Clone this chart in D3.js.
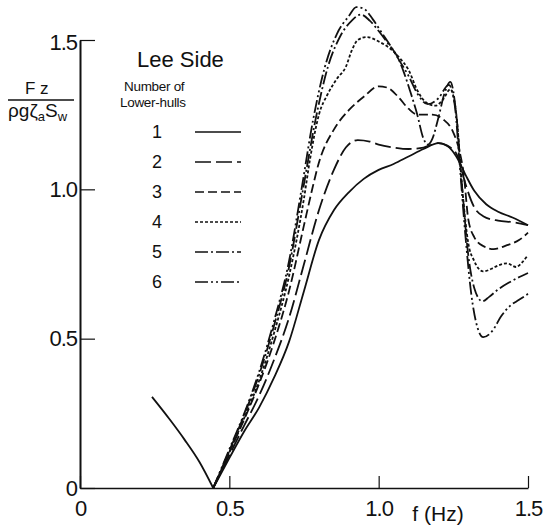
<!DOCTYPE html>
<html>
<head>
<meta charset="utf-8">
<script src="https://cdn.jsdelivr.net/npm/d3@7"></script>
<style>
body{margin:0;background:#fff;}
svg text{font-family:"Liberation Sans",Arial,sans-serif;fill:#111;}
</style>
</head>
<body>
<div id="chart"></div>
<script>
// values: [f (Hz), Fz / (rho g zeta_a Sw)]
var xTicks = [0, 0.5, 1.0, 1.5];
var yTicks = [0, 0.5, 1.0, 1.5];
var legendLabels = ["1", "2", "3", "4", "5", "6"];

var leftBranch = [[0.241,0.305],[0.3,0.23],[0.35,0.162],[0.4,0.087],[0.446,0]];

var hull1 = [[0.446,0],[0.5,0.1],[0.55,0.19],[0.6,0.27],[0.65,0.37],[0.7,0.49],[0.75,0.66],[0.8,0.83],[0.85,0.93],[0.9,0.99],[0.95,1.035],[1.0,1.065],[1.05,1.085],[1.1,1.11],[1.15,1.135],[1.2,1.155],[1.23,1.145],[1.26,1.11],[1.29,1.05],[1.32,0.995],[1.36,0.95],[1.4,0.925],[1.45,0.905],[1.5,0.88]];
var hull2 = [[0.446,0],[0.5,0.11],[0.55,0.21],[0.6,0.31],[0.65,0.43],[0.7,0.57],[0.75,0.75],[0.8,0.93],[0.85,1.065],[0.89,1.14],[0.93,1.165],[0.97,1.16],[1.0,1.15],[1.05,1.14],[1.1,1.135],[1.15,1.14],[1.2,1.155],[1.24,1.14],[1.265,1.11],[1.29,1.02],[1.32,0.94],[1.35,0.91],[1.4,0.895],[1.45,0.89],[1.5,0.88]];
var hull3 = [[0.446,0],[0.5,0.12],[0.55,0.23],[0.6,0.35],[0.65,0.49],[0.7,0.66],[0.75,0.88],[0.775,0.99],[0.8,1.09],[0.85,1.2],[0.9,1.265],[0.95,1.31],[1.0,1.345],[1.03,1.34],[1.065,1.31],[1.1,1.27],[1.13,1.25],[1.18,1.25],[1.215,1.235],[1.25,1.19],[1.27,1.13],[1.285,1.05],[1.3,0.9],[1.32,0.84],[1.35,0.81],[1.385,0.8],[1.43,0.813],[1.47,0.83],[1.5,0.855]];
var hull4 = [[0.446,0],[0.5,0.12],[0.55,0.235],[0.6,0.36],[0.65,0.52],[0.7,0.71],[0.75,0.97],[0.77,1.1],[0.8,1.25],[0.83,1.32],[0.86,1.37],[0.89,1.41],[0.91,1.465],[0.93,1.5],[0.96,1.51],[1.0,1.495],[1.04,1.47],[1.07,1.44],[1.1,1.4],[1.13,1.33],[1.16,1.29],[1.19,1.28],[1.215,1.3],[1.24,1.335],[1.26,1.25],[1.28,1.0],[1.3,0.82],[1.32,0.76],[1.35,0.725],[1.38,0.735],[1.4,0.745],[1.43,0.752],[1.46,0.74],[1.48,0.755],[1.5,0.78]];
var hull5 = [[0.446,0],[0.5,0.125],[0.55,0.245],[0.6,0.38],[0.65,0.545],[0.7,0.74],[0.745,0.99],[0.79,1.24],[0.83,1.41],[0.87,1.51],[0.91,1.565],[0.94,1.585],[0.97,1.565],[1.0,1.53],[1.03,1.49],[1.065,1.44],[1.085,1.39],[1.105,1.33],[1.128,1.255],[1.15,1.17],[1.165,1.15],[1.18,1.17],[1.2,1.24],[1.22,1.32],[1.24,1.36],[1.26,1.25],[1.28,1.0],[1.3,0.78],[1.32,0.67],[1.347,0.625],[1.37,0.64],[1.4,0.665],[1.44,0.69],[1.5,0.72]];
var hull6 = [[0.446,0],[0.5,0.13],[0.55,0.25],[0.6,0.39],[0.65,0.56],[0.7,0.76],[0.74,0.99],[0.78,1.23],[0.82,1.41],[0.86,1.52],[0.9,1.58],[0.925,1.61],[0.95,1.605],[0.98,1.57],[1.01,1.525],[1.04,1.48],[1.07,1.43],[1.1,1.38],[1.13,1.32],[1.165,1.285],[1.2,1.305],[1.235,1.35],[1.255,1.28],[1.27,1.1],[1.29,0.85],[1.31,0.65],[1.33,0.54],[1.35,0.505],[1.38,0.525],[1.41,0.575],[1.44,0.61],[1.47,0.63],[1.5,0.65]];

var series = [hull1, hull2, hull3, hull4, hull5, hull6];
var dashes = [null, "16,5", "9,4", "3,2", "13,3,2,3", "13,3,2,3,2,3"];

var width = 551, height = 529;

var svg = d3.select("#chart").append("svg")
    .attr("width", width)
    .attr("height", height);

var x = d3.scaleLinear().domain([0, 1.5]).range([80, 528]);
var y = d3.scaleLinear().domain([0, 1.5]).range([488, 40]);

var fmt = function(d){ return d === 0 ? "0" : d3.format(".1f")(d); };

// axes, ticks point inward
var xAxis = svg.append("g")
    .attr("transform", "translate(0," + y(0) + ")")
    .call(d3.axisBottom(x).tickValues(xTicks).tickFormat(fmt).tickSizeInner(-12).tickSizeOuter(0).tickPadding(12));
var yAxis = svg.append("g")
    .attr("transform", "translate(" + x(0) + ",0)")
    .call(d3.axisLeft(y).tickValues(yTicks).tickFormat(fmt).tickSizeInner(-15).tickSizeOuter(0).tickPadding(3));

xAxis.select(".domain").attr("stroke", "#111").attr("stroke-width", 1.6);
yAxis.select(".domain").attr("stroke", "#111").attr("stroke-width", 2);
svg.selectAll(".tick line").attr("stroke", "#111").attr("stroke-width", 1.2);
svg.selectAll(".tick text")
    .style("font-family", "'Liberation Sans', Arial, sans-serif")
    .style("font-size", "22px")
    .style("letter-spacing", "-1px")
    .attr("fill", "#111");
yAxis.selectAll(".tick text").filter(function(d){ return d === 1.5; }).attr("dy", "0.45em");

svg.append("text")
    .attr("x", 438).attr("y", 521)
    .attr("text-anchor", "middle")
    .style("font-size", "21px")
    .text("f (Hz)");

// y label as a fraction
svg.append("text")
    .attr("x", 25).attr("y", 94)
    .style("font-size", "17px")
    .text("F z");
svg.append("line")
    .attr("x1", 8).attr("x2", 74)
    .attr("y1", 100).attr("y2", 100)
    .attr("stroke", "#111").attr("stroke-width", 1.5);
var den = svg.append("text")
    .attr("x", 8).attr("y", 117)
    .style("font-size", "19px");
den.append("tspan").text("ρgζ");
den.append("tspan").attr("dy", 4).style("font-size", "13px").text("a");
den.append("tspan").attr("dy", -4).text("S");
den.append("tspan").attr("dy", 4).style("font-size", "13px").text("w");

// curves
var line = d3.line()
    .x(function(d){ return x(d[0]); })
    .y(function(d){ return y(d[1]); })
    .curve(d3.curveMonotoneX);

svg.append("path")
    .datum(leftBranch)
    .attr("d", line)
    .attr("fill", "none")
    .attr("stroke", "#111")
    .attr("stroke-width", 1.8);

svg.selectAll(".hull")
    .data(series)
    .enter()
    .append("path")
    .attr("class", "hull")
    .attr("d", line)
    .attr("fill", "none")
    .attr("stroke", "#111")
    .attr("stroke-width", 1.8)
    .attr("stroke-dasharray", function(d, i){ return dashes[i]; });

// legend
svg.append("text")
    .attr("x", 137).attr("y", 67)
    .style("font-size", "22px")
    .text("Lee Side");
svg.append("text")
    .attr("x", 124).attr("y", 91)
    .style("font-size", "13.5px")
    .style("letter-spacing", "-0.3px")
    .text("Number of");
svg.append("text")
    .attr("x", 120).attr("y", 107)
    .style("font-size", "13.5px")
    .style("letter-spacing", "-0.3px")
    .text("Lower-hulls");

var legend = svg.selectAll(".legend")
    .data(legendLabels)
    .enter()
    .append("g")
    .attr("class", "legend")
    .attr("transform", function(d, i){ return "translate(0," + (132 + i * 30) + ")"; });

legend.append("text")
    .attr("x", 157).attr("dy", "0.36em")
    .attr("text-anchor", "middle")
    .style("font-size", "18px")
    .text(function(d){ return d; });
legend.append("line")
    .attr("x1", 195).attr("x2", 241)
    .attr("stroke", "#111")
    .attr("stroke-width", 1.6)
    .attr("stroke-dasharray", function(d, i){ return dashes[i]; });
</script>
</body>
</html>
